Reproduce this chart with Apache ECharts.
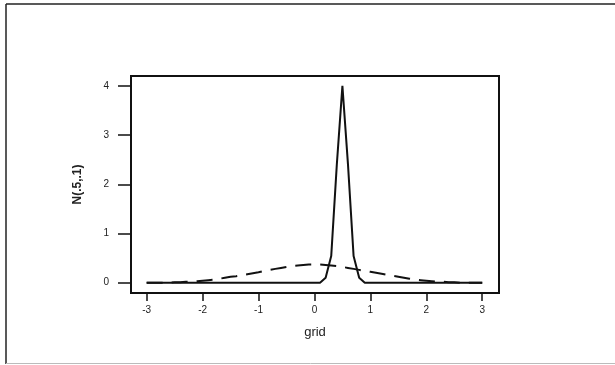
<!DOCTYPE html>
<html>
<head>
<meta charset="utf-8">
<script src="https://cdn.jsdelivr.net/npm/echarts@6/dist/echarts.min.js"></script>
<style>
  html, body { margin: 0; padding: 0; background: #fff; }
  #chart { width: 615px; height: 365px; }
</style>
</head>
<body>
<div id="chart"></div>
<script>
// grid points (x axis)
const grid = [
  -3.0, -2.9, -2.8, -2.7, -2.6, -2.5, -2.4, -2.3, -2.2, -2.1,
  -2.0, -1.9, -1.8, -1.7, -1.6, -1.5, -1.4, -1.3, -1.2, -1.1,
  -1.0, -0.9, -0.8, -0.7, -0.6, -0.5, -0.4, -0.3, -0.2, -0.1,
  0.0, 0.1, 0.2, 0.3, 0.4, 0.5, 0.6, 0.7, 0.8, 0.9,
  1.0, 1.1, 1.2, 1.3, 1.4, 1.5, 1.6, 1.7, 1.8, 1.9,
  2.0, 2.1, 2.2, 2.3, 2.4, 2.5, 2.6, 2.7, 2.8, 2.9, 3.0
];

// N(.5,.1) - solid line
const narrow = [
  0, 0, 0, 0, 0, 0, 0, 0, 0, 0,
  0, 0, 0, 0, 0, 0, 0, 0, 0, 0,
  0, 0, 0, 0, 0, 0, 0, 0, 0, 0,
  0, 0, 0.1, 0.54, 2.4, 4.0, 2.4, 0.54, 0.1, 0,
  0, 0, 0, 0, 0, 0, 0, 0, 0, 0,
  0, 0, 0, 0, 0, 0, 0, 0, 0, 0, 0
];

// wide curve - dashed line
const wide = [
  0.00, 0.00, 0.00, 0.00, 0.00, 0.01, 0.01, 0.02, 0.02, 0.03,
  0.04, 0.05, 0.06, 0.08, 0.10, 0.12, 0.13, 0.15, 0.17, 0.19,
  0.21, 0.24, 0.26, 0.28, 0.30, 0.32, 0.34, 0.35, 0.36, 0.37,
  0.37, 0.37, 0.36, 0.35, 0.34, 0.32, 0.30, 0.28, 0.26, 0.24,
  0.22, 0.20, 0.18, 0.16, 0.14, 0.12, 0.10, 0.08, 0.06, 0.05,
  0.04, 0.03, 0.02, 0.02, 0.01, 0.01, 0.00, 0.00, 0.00, 0.00, 0.00
];

const xTicks = [-3, -2, -1, 0, 1, 2, 3];
const yTicks = [0, 1, 2, 3, 4];

const font = 'Liberation Sans, Arial, sans-serif';
const ink = '#111';

const chart = echarts.init(document.getElementById('chart'));

const option = {
  animation: false,
  backgroundColor: '#fff',
  grid: {
    left: 131,
    right: 116,
    top: 76,
    bottom: 72,
    show: true,
    borderColor: ink,
    borderWidth: 2
  },
  xAxis: {
    type: 'value',
    min: -3.28,
    max: 3.3,
    name: 'grid',
    nameLocation: 'middle',
    nameGap: 33,
    nameTextStyle: { fontFamily: font, fontSize: 13, color: '#222' },
    splitLine: { show: false },
    axisLine: { show: true, onZero: false, lineStyle: { color: ink, width: 2 } },
    axisTick: {
      show: true,
      length: 8,
      customValues: xTicks,
      lineStyle: { color: ink, width: 1.5 }
    },
    axisLabel: {
      customValues: xTicks,
      margin: 12,
      fontFamily: font,
      fontSize: 10,
      color: '#222'
    }
  },
  yAxis: {
    type: 'value',
    min: -0.21,
    max: 4.2,
    name: 'N(.5,.1)',
    nameLocation: 'middle',
    nameGap: 47,
    nameRotate: 90,
    nameTextStyle: { fontFamily: font, fontSize: 12, fontWeight: 'bold', color: '#222' },
    splitLine: { show: false },
    axisLine: { show: true, onZero: false, lineStyle: { color: ink, width: 2 } },
    axisTick: {
      show: true,
      length: 13,
      customValues: yTicks,
      lineStyle: { color: ink, width: 1.5 }
    },
    axisLabel: {
      customValues: yTicks,
      margin: 22,
      fontFamily: font,
      fontSize: 10,
      color: '#222'
    }
  },
  series: [
    {
      name: 'wide',
      type: 'line',
      data: grid.map((x, i) => [x, wide[i]]),
      symbol: 'none',
      lineStyle: { color: ink, width: 2, type: [16, 9] }
    },
    {
      name: 'N(.5,.1)',
      type: 'line',
      data: grid.map((x, i) => [x, narrow[i]]),
      symbol: 'none',
      lineStyle: { color: ink, width: 2 }
    }
  ],
  graphic: [
    // outer frame
    { type: 'line', shape: { x1: 6, y1: 4, x2: 615, y2: 4 }, style: { stroke: '#222', lineWidth: 1.5 } },
    { type: 'line', shape: { x1: 6, y1: 4, x2: 6, y2: 364 }, style: { stroke: '#222', lineWidth: 1.5 } },
    { type: 'line', shape: { x1: 6, y1: 363.5, x2: 615, y2: 363.5 }, style: { stroke: '#bbb', lineWidth: 1 } }
  ]
};

chart.setOption(option);
</script>
</body>
</html>
